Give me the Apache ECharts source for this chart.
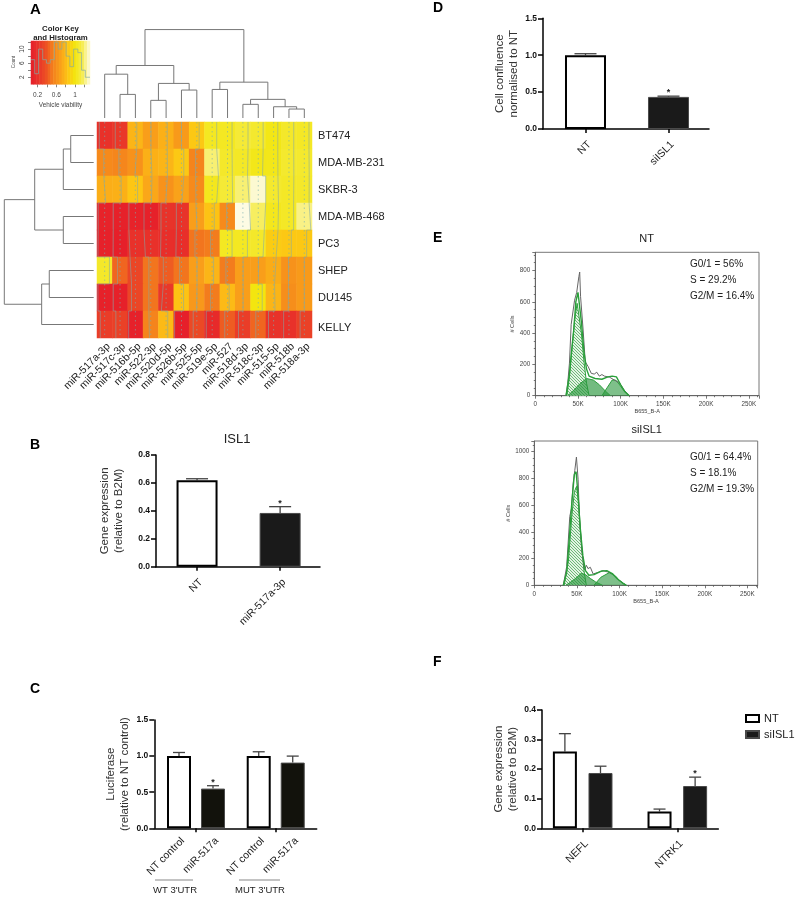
<!DOCTYPE html>
<html>
<head>
<meta charset="utf-8">
<style>html,body{margin:0;padding:0;background:#fff}#chart{width:796px;height:898px}</style>
<script src="https://cdn.jsdelivr.net/npm/echarts@6/dist/echarts.min.js"></script>
</head>
<body>
<div id="chart"></div>
<script>
// panel A: heatmap
var mirnas = ['miR-517a-3p','miR-517c-3p','miR-516b-5p','miR-522-3p','miR-520d-5p','miR-526b-5p','miR-525-5p','miR-519e-5p','miR-527','miR-518d-3p','miR-518c-3p','miR-515-5p','miR-518b','miR-518a-3p'];
var cellLines = ['BT474','MDA-MB-231','SKBR-3','MDA-MB-468','PC3','SHEP','DU145','KELLY'];
var bt474 = [0.2,0.25,0.78,0.68,0.76,0.66,0.86,1.05,1.05,1.1,1.08,1.02,1.07,1.06];
var mda231 = [0.58,0.56,0.62,0.76,0.78,0.86,0.55,1.2,1.07,1.06,1.03,1.03,1.08,1.08];
var skbr3 = [0.75,0.76,0.85,0.72,0.62,0.7,0.58,1.04,1.1,1.2,1.3,1.08,1.06,1.07];
var mda468 = [0.1,0.08,0.1,0.08,0.22,0.22,0.68,0.84,0.58,1.32,1.18,1.04,1.06,1.22];
var pc3 = [0.08,0.07,0.2,0.2,0.18,0.18,0.5,0.52,1.05,1.05,1.07,0.88,0.86,0.86];
var shep = [1.07,0.45,0.33,0.5,0.42,0.5,0.68,0.78,0.52,0.68,0.68,0.74,0.62,0.66];
var du145 = [0.08,0.08,0.33,0.5,0.25,0.84,0.65,0.52,0.8,0.68,1.0,0.78,0.6,0.66];
var kelly = [0.28,0.3,0.08,0.55,0.8,0.07,0.35,0.15,0.42,0.28,0.45,0.22,0.2,0.3];
var heatRows = [bt474,mda231,skbr3,mda468,pc3,shep,du145,kelly];

// dendrograms, hclust style: [a, b, height], a/b >= 0 leaf, < 0 earlier merge
var colMerges = [[1,2,26.6],[0,-1,49.4],[3,4,19.9],[5,6,31.5],[-3,-4,39],[-2,-5,59.2],[7,8,32.2],[9,10,15.4],[12,13,10.1],[11,-9,12.7],[-8,-10,21],[-7,-11,40.4],[-6,-12,99.7]];
var rowMerges = [[0,1,25.7],[-1,2,34],[3,4,34],[-2,-3,66],[5,6,49.7],[-5,7,58.2],[-4,-6,100]];

// colour key
var keyBands = [0.09,0.15,0.21,0.27,0.33,0.39,0.45,0.51,0.57,0.63,0.69,0.75,0.81,0.87,0.93,0.99,1.05,1.11,1.17,1.23,1.29];
var histEdges = [0.06,0.14,0.22,0.31,0.39,0.47,0.56,0.64,0.72,0.81,0.89,0.97,1.06,1.14,1.22,1.32];
var histCounts = [7,3,10,7,6,7,12,10,12,8,5,10,9,4,2];

// panel B
var isl1Cats = ['NT','miR-517a-3p'];
var isl1Values = [0.62,0.385];
var isl1ErrTop = [0.63,0.43];
// panel C
var lucNT = [1.0,1.0];
var lucNTErr = [1.05,1.06];
var lucMir = [0.55,0.91];
var lucMirErr = [0.59,1.0];
// panel D
var confCats = ['NT','siISL1'];
var confValues = [1.0,0.435];
var confErrTop = [1.02,0.445];
// panel F
var geneCats = ['NEFL','NTRK1'];
var geneNT = [0.26,0.057];
var geneNTErr = [0.32,0.065];
var geneSi = [0.187,0.143];
var geneSiErr = [0.21,0.173];

// panel E, [B655 in thousands, cells]
var ntRaw = [[36,0],[38,80],[40,208],[42,455],[44,465],[46,610],[48.5,660],[51,760],[52,790],[53,635],[56,420],[58.5,217],[62,185],[65.5,143],[69,138],[72,150],[75,125],[78,135],[81,125],[87,118],[92.6,100],[98.5,83],[104,36],[110,0]];
var ntFit = [[36,0],[40,140],[42,260],[45,420],[47.5,600],[50,660],[51.5,650],[54,470],[57,280],[60,170],[63,125],[70,110],[78,105],[85,120],[90,125],[95,120],[100,70],[105,25],[110,0]];
var ntG1 = [[37,0],[40,120],[43,300],[46,480],[49,590],[51,580],[54,400],[57,220],[60,80],[63,0]];
var ntS = [[38,0],[45,35],[52,75],[60,110],[68,100],[75,70],[82,30],[88,0]];
var ntG2 = [[78,0],[84,50],[90,100],[94,100],[98,75],[104,30],[110,0]];
var siRaw = [[34,0],[38,140],[41.6,515],[43.6,575],[45.5,760],[47.5,860],[49.4,960],[51.4,790],[53,490],[56,240],[59,115],[61,150],[63,125],[65.7,135],[69,85],[75,97],[80.5,110],[86,100],[92,85],[98,45],[104,15],[108,0]];
var siFit = [[34,0],[38,100],[41,350],[44,620],[47,830],[49,850],[51,700],[54,420],[57,220],[60,110],[64,75],[70,80],[78,105],[85,110],[92,85],[98,45],[104,15],[108,0]];
var siG1 = [[35,0],[40,180],[44,520],[47,700],[49.5,740],[52,620],[55,330],[58,120],[61,0]];
var siS = [[37,0],[44,30],[50,60],[55,90],[60,80],[66,50],[72,25],[80,0]];
var siG2 = [[70,0],[78,60],[88,95],[95,70],[100,35],[108,0]];
var ntStats = ['G0/1 = 56%','S = 29.2%','G2/M = 16.4%'];
var siStats = ['G0/1 = 64.4%','S = 18.1%','G2/M = 19.3%'];

var FONT = '"Liberation Sans", Arial, sans-serif';
var grids = [], xAxes = [], yAxes = [], series = [], graphics = [];

function addGrid(x0, y0, x1, y1, xAxis, yAxis, extra) {
    var grid = {left: x0, top: y0, width: x1 - x0, height: y1 - y0};
    for (var k in extra) grid[k] = extra[k];
    grids.push(grid);
    var idx = grids.length - 1;
    xAxis.gridIndex = idx;
    yAxis.gridIndex = idx;
    xAxes.push(xAxis);
    yAxes.push(yAxis);
    return idx;
}

function hiddenValue(min, max, inverse) {
    return {type: 'value', show: false, min: min, max: max, inverse: !!inverse, splitLine: {show: false}};
}

function text(x, y, str, style) {
    var s = {text: str, x: x, y: y, fontFamily: FONT, fontSize: 11, fill: '#222', align: 'left', verticalAlign: 'middle'};
    for (var k in style) s[k] = style[k];
    graphics.push({type: 'text', silent: true, style: s});
}

function dendroPoints(merges, horizontal) {
    var nodes = [], pts = [];
    merges.forEach(function(m) {
        var a = m[0] >= 0 ? {p: m[0] + 0.5, h: 0} : nodes[-m[0] - 1];
        var b = m[1] >= 0 ? {p: m[1] + 0.5, h: 0} : nodes[-m[1] - 1];
        var seg = [[a.p, a.h], [a.p, m[2]], [b.p, m[2]], [b.p, b.h]];
        seg.forEach(function(s) {
            pts.push(horizontal ? [s[1], s[0]] : [s[0], s[1]]);
        });
        pts.push([null, null]);
        nodes.push({p: (a.p + b.p) / 2, h: m[2]});
    });
    return pts;
}

function pathSeries(idx, data, color, width, dash, z) {
    return {
        type: 'line', xAxisIndex: idx, yAxisIndex: idx, data: data, showSymbol: false, symbol: 'none',
        connectNulls: false, z: z || 3, silent: true,
        lineStyle: {color: color, width: width, type: dash || 'solid'}
    };
}

// ---- panel A ----
var HX0 = 97, HX1 = 312, HY0 = 122, HY1 = 338;
var heatIdx = addGrid(HX0, HY0, HX1, HY1, {
    type: 'category', data: mirnas, position: 'bottom',
    axisLine: {show: false}, axisTick: {show: false},
    axisLabel: {interval: 0, rotate: 45, margin: 3, verticalAlign: 'top', fontFamily: FONT, fontSize: 10.5, color: '#222'}
}, {
    type: 'category', data: cellLines, inverse: true, position: 'right',
    axisLine: {show: false}, axisTick: {show: false},
    axisLabel: {
        interval: 0, margin: 6, fontFamily: FONT, fontSize: 11, color: '#222',
        formatter: function(v) { return v === 'KELLY' ? '{low|' + v + '}' : v; },
        rich: {low: {fontFamily: FONT, fontSize: 11, color: '#222', padding: [7, 0, 0, 0]}}
    }
});
var heatData = [];
heatRows.forEach(function(row, r) {
    row.forEach(function(v, c) { heatData.push([c, r, v]); });
});
series.push({type: 'heatmap', xAxisIndex: heatIdx, yAxisIndex: heatIdx, data: heatData, z: 2, silent: true, itemStyle: {borderWidth: 0}});
var heatSeriesIndex = series.length - 1;

// trace lines over the cells
var traceIdx = addGrid(HX0, HY0, HX1, HY1, hiddenValue(0, 14), hiddenValue(0, 8, true));
var tracePts = [], centrePts = [];
mirnas.forEach(function(name, c) {
    centrePts.push([c + 0.5, 0], [c + 0.5, 8], [null, null]);
    heatRows.forEach(function(row, r) {
        var tx = c + row[c] / 1.32;
        tracePts.push([tx, r], [tx, r + 1]);
    });
    tracePts.push([null, null]);
});
series.push(pathSeries(traceIdx, centrePts, 'rgba(120,175,175,0.6)', 1, [1.5, 3], 4));
series.push(pathSeries(traceIdx, tracePts, 'rgba(130,170,170,0.55)', 1, 'solid', 4));

var topIdx = addGrid(HX0, 29.3, HX1, 118, hiddenValue(0, 14), hiddenValue(0, 100));
series.push(pathSeries(topIdx, dendroPoints(colMerges, false), '#777', 1));
var leftIdx = addGrid(4.3, HY0, 93.7, HY1, hiddenValue(0, 100, true), hiddenValue(0, 8, true));
series.push(pathSeries(leftIdx, dendroPoints(rowMerges, true), '#777', 1));

// colour key: bands plus histogram
var KX0 = 31, KX1 = 90, KY0 = 41, KY1 = 84.3;
var keyIdx = addGrid(KX0, KY0, KX1, KY1, {type: 'category', show: false, data: keyBands}, {type: 'category', show: false, data: ['k']});
series.push({
    type: 'heatmap', xAxisIndex: keyIdx, yAxisIndex: keyIdx, z: 2, silent: true,
    data: keyBands.map(function(v, i) { return [i, 0, v]; })
});
var keySeriesIndex = series.length - 1;
var smallLabel = {fontFamily: FONT, fontSize: 6.5, color: '#444'};
var histIdx = addGrid(KX0, KY0, KX1, KY1, {
    type: 'value', min: 0.06, max: 1.32, splitLine: {show: false},
    axisLine: {show: false},
    axisTick: {length: 3, customValues: [0.2,0.4,0.6,0.8,1,1.2], lineStyle: {color: '#666', width: 0.8}},
    axisLabel: Object.assign({customValues: [0.2,0.6,1], margin: 7, formatter: function(v) { return String(v); }}, smallLabel)
}, {
    type: 'value', min: 0, max: 12.3, splitLine: {show: false},
    axisLine: {show: false},
    axisTick: {length: 3, customValues: [2,4,6,8,10,12], lineStyle: {color: '#666', width: 0.8}},
    axisLabel: Object.assign({customValues: [2,6,10], rotate: 90, margin: 5}, smallLabel)
});
var histPts = histEdges.map(function(e, i) {
    return [e, i < histCounts.length ? histCounts[i] : histCounts[histCounts.length - 1]];
});
series.push({
    type: 'line', xAxisIndex: histIdx, yAxisIndex: histIdx, data: histPts, step: 'end', showSymbol: false, z: 5, silent: true,
    lineStyle: {color: 'rgba(130,170,165,0.85)', width: 0.8}
});

text(60.5, 29, 'Color Key', {fontSize: 7.8, fontWeight: 'bold', align: 'center'});
text(60.5, 38, 'and Histogram', {fontSize: 7.8, fontWeight: 'bold', align: 'center'});
text(60.5, 105.5, 'Vehicle viability', {fontSize: 6.4, align: 'center', fill: '#444'});
graphics.push({type: 'text', silent: true, x: 14, y: 62, rotation: Math.PI / 2,
    style: {text: 'Count', fontFamily: FONT, fontSize: 4.6, fill: '#444', align: 'center', verticalAlign: 'middle'}});

// ---- bar panels ----
function errorSeries(idx, xs, tops, errs, offset, capW, stars, z) {
    return {
        type: 'custom', xAxisIndex: idx, yAxisIndex: idx, silent: true, z: z || 1,
        data: xs.map(function(x, i) { return [x, tops[i], errs[i], stars[i] ? 1 : 0]; }),
        encode: {x: 0, y: 2},
        renderItem: function(params, api) {
            var top = api.coord([api.value(0), api.value(1)]);
            var err = api.coord([api.value(0), api.value(2)]);
            var cx = top[0] + offset;
            var line = {stroke: '#444', lineWidth: 1.3};
            var kids = [
                {type: 'line', shape: {x1: cx, y1: top[1], x2: cx, y2: err[1]}, style: line},
                {type: 'line', shape: {x1: cx - capW / 2, y1: err[1], x2: cx + capW / 2, y2: err[1]}, style: line}
            ];
            if (api.value(3)) {
                kids.push({type: 'text', style: {text: '*', x: cx, y: err[1] - 3.5, align: 'center', verticalAlign: 'middle', fontFamily: FONT, fontSize: 9, fontWeight: 'bold', fill: '#222'}});
            }
            return {type: 'group', children: kids};
        }
    };
}

var whiteBar = {color: '#fff', borderColor: '#000', borderWidth: 2};
var darkBar = {color: '#1a1a1a', borderColor: '#4a4a4a', borderWidth: 1};

function barAxes(o) {
    return [{
        type: 'value', min: o.xMin, max: o.xMax, splitLine: {show: false},
        axisLine: {onZero: false, lineStyle: {color: '#000', width: 1.5}},
        axisTick: {customValues: [0, 1], length: 4, lineStyle: {color: '#000', width: 1.5}},
        axisLabel: {
            customValues: o.cats ? [0, 1] : [], rotate: 45, margin: 10, verticalAlign: 'top', fontFamily: FONT, fontSize: 10.5, color: '#222',
            formatter: function(v) { return o.cats ? o.cats[v] : ''; }
        }
    }, {
        type: 'value', min: 0, max: o.yMax, interval: o.yStep, splitLine: {show: false},
        name: o.yName, nameLocation: 'middle', nameRotate: 90, nameGap: o.nameGap,
        nameTextStyle: {fontFamily: FONT, fontSize: 11.5, color: '#333', lineHeight: 14},
        axisLine: {show: true, onZero: false, lineStyle: {color: '#000', width: 1.5}},
        axisTick: {show: true, length: 5, lineStyle: {color: '#000', width: 1.5}},
        axisLabel: {
            margin: 6, fontFamily: FONT, fontSize: 8.5, fontWeight: 'bold', color: '#111',
            formatter: function(v) { return v.toFixed(1); }
        }
    }];
}

function singleBarPanel(o) {
    var ax = barAxes(o);
    var idx = addGrid(o.x0, o.y0, o.x1, o.y1, ax[0], ax[1]);
    var xs = [0, 1];
    series.push(errorSeries(idx, xs, o.values, o.errs, 0, o.capW, [false, true]));
    series.push({
        type: 'bar', xAxisIndex: idx, yAxisIndex: idx, barWidth: 41, z: 2, silent: true,
        data: o.values.map(function(v, i) {
            return {value: [i, v], itemStyle: i === 0 ? whiteBar : darkBar};
        })
    });
}

function groupedBarPanel(o) {
    var ax = barAxes(o);
    var idx = addGrid(o.x0, o.y0, o.x1, o.y1, ax[0], ax[1]);
    var xs = [0, 1];
    var off = (o.barW + o.gap) / 2;
    o.groups.forEach(function(g, n) {
        var sign = n === 0 ? -1 : 1;
        series.push(errorSeries(idx, xs, g.values, g.errs, sign * off, 12, g.stars));
        series.push({
            type: 'bar', name: g.name, xAxisIndex: idx, yAxisIndex: idx, barWidth: o.barW, barGap: (o.gap / o.barW * 100) + '%', z: 2, silent: true,
            itemStyle: g.dark ? {color: g.fill || '#1a1a1a', borderColor: '#4a4a4a', borderWidth: 1} : whiteBar,
            data: g.values.map(function(v, i) { return [i, v]; }),
            label: g.tick ? {
                show: true, position: 'bottom', distance: 7, rotate: 45, align: 'right', verticalAlign: 'top',
                fontFamily: FONT, fontSize: 10.5, color: '#222', formatter: function() { return g.tick; }
            } : {show: false}
        });
    });
}

singleBarPanel({
    x0: 156, y0: 455, x1: 320, y1: 566.7, xMin: -0.494, xMax: 1.48, yMax: 0.8, yStep: 0.2,
    cats: isl1Cats, values: isl1Values, errs: isl1ErrTop, capW: 22,
    yName: 'Gene expression\n(relative to B2M)', nameGap: 30
});
singleBarPanel({
    x0: 543, y0: 18.3, x1: 709, y1: 129, xMin: -0.512, xMax: 1.488, yMax: 1.5, yStep: 0.5,
    cats: confCats, values: confValues, errs: confErrTop, capW: 22,
    yName: 'Cell confluence\nnormalised to NT', nameGap: 21
});
groupedBarPanel({
    x0: 154.3, y0: 720, x1: 316.7, y1: 828.3, xMin: -0.523, xMax: 1.514, yMax: 1.5, yStep: 0.5,
    barW: 24, gap: 10, yName: 'Luciferase\n(relative to NT control)', nameGap: 22,
    groups: [
        {values: lucNT, errs: lucNTErr, stars: [false, false], tick: 'NT control'},
        {values: lucMir, errs: lucMirErr, stars: [true, false], dark: true, fill: '#12120c', tick: 'miR-517a'}
    ]
});
groupedBarPanel({
    x0: 542, y0: 710, x1: 718.3, y1: 828.3, xMin: -0.43, xMax: 1.433, yMax: 0.4, yStep: 0.1,
    cats: geneCats, barW: 24, gap: 11.6, yName: 'Gene expression\n(relative to B2M)', nameGap: 19,
    groups: [
        {name: 'NT', values: geneNT, errs: geneNTErr, stars: [false, false]},
        {name: 'siISL1', values: geneSi, errs: geneSiErr, stars: [false, true], dark: true}
    ]
});

graphics.push({type: 'line', silent: true, shape: {x1: 155, y1: 880, x2: 193, y2: 880}, style: {stroke: '#555', lineWidth: 0.7}});
graphics.push({type: 'line', silent: true, shape: {x1: 239, y1: 880, x2: 280, y2: 880}, style: {stroke: '#555', lineWidth: 0.7}});
text(175, 890, "WT 3'UTR", {fontSize: 9.5, align: 'center'});
text(260, 890, "MUT 3'UTR", {fontSize: 9.5, align: 'center'});
text(237, 439, 'ISL1', {fontSize: 13, align: 'center'});

// ---- panel E ----
var hatch = document.createElement('canvas');
hatch.width = 3;
hatch.height = 3;
var hctx = hatch.getContext('2d');
hctx.fillStyle = '#e4f2e4';
hctx.fillRect(0, 0, 3, 3);
hctx.fillStyle = '#6cbb76';
hctx.fillRect(0, 0, 1, 1);
hctx.fillRect(1, 1, 1, 1);
hctx.fillRect(2, 2, 1, 1);

function flowPanel(o) {
    var tickStyle = {color: '#555', width: 0.8};
    var lab = {fontFamily: FONT, fontSize: 6.3, color: '#444'};
    var idx = addGrid(o.x0, o.y0, o.x1, o.y1, {
        type: 'value', min: 0, max: 262, interval: 50, splitLine: {show: false},
        name: 'B655_B-A', nameLocation: 'middle', nameGap: 13, nameTextStyle: {fontFamily: FONT, fontSize: 5.6, color: '#444'},
        axisLine: {lineStyle: {color: '#666', width: 1}},
        axisTick: {length: 3, lineStyle: tickStyle},
        minorTick: {show: true, splitNumber: 5, length: 1.5, lineStyle: tickStyle},
        axisLabel: Object.assign({
            customValues: [0,50,100,150,200,250], margin: 6,
            formatter: function(v) { return v === 0 ? '0' : v + 'K'; }
        }, lab)
    }, {
        type: 'value', min: 0, max: o.yMax, interval: 200, splitLine: {show: false},
        name: '# Cells', nameLocation: 'middle', nameRotate: 90, nameGap: 20, nameTextStyle: {fontFamily: FONT, fontSize: 5.6, color: '#444'},
        axisLine: {show: true, lineStyle: {color: '#666', width: 1}},
        axisTick: {show: true, length: 3, lineStyle: tickStyle},
        minorTick: {show: true, splitNumber: 4, length: 1.5, lineStyle: tickStyle},
        axisLabel: Object.assign({customValues: o.yLabels, margin: 5, formatter: function(v) { return String(v); }}, lab)
    }, {show: true, borderColor: '#777', borderWidth: 1, backgroundColor: 'transparent'});
    function area(data, fill, z) {
        return {
            type: 'line', xAxisIndex: idx, yAxisIndex: idx, data: data, showSymbol: false, z: z, silent: true,
            lineStyle: {color: '#2e9e3e', width: 1},
            areaStyle: {color: fill, opacity: 1}
        };
    }
    series.push(area(o.g1, {image: hatch, repeat: 'repeat'}, 2));
    series.push(area(o.s, 'rgba(40,150,60,0.65)', 3));
    series.push(area(o.g2, 'rgba(40,150,60,0.6)', 3));
    series.push({type: 'line', xAxisIndex: idx, yAxisIndex: idx, data: o.raw, showSymbol: false, z: 4, silent: true, lineStyle: {color: '#666', width: 1}});
    series.push({type: 'line', xAxisIndex: idx, yAxisIndex: idx, data: o.fit, showSymbol: false, z: 5, silent: true, lineStyle: {color: '#2aa03a', width: 1.4}});
    o.stats.forEach(function(s, i) {
        text(o.statX, o.statY + i * 16, s, {fontSize: 10});
    });
}

flowPanel({x0: 535.3, y0: 252.3, x1: 759, y1: 395.7, yMax: 916, yLabels: [0,200,400,600,800], raw: ntRaw, fit: ntFit, g1: ntG1, s: ntS, g2: ntG2, stats: ntStats, statX: 690, statY: 264.7});
flowPanel({x0: 534.3, y0: 441, x1: 757.7, y1: 585.3, yMax: 1080, yLabels: [0,200,400,600,800,1000], raw: siRaw, fit: siFit, g1: siG1, s: siS, g2: siG2, stats: siStats, statX: 690, statY: 457.7});
text(646.7, 239, 'NT', {fontSize: 11, align: 'center'});
text(646.7, 429.5, 'siISL1', {fontSize: 11, align: 'center'});

// panel letters
[['A', 30, 10, 15], ['B', 30, 445, 14], ['C', 30, 689, 14], ['D', 433, 8, 14], ['E', 433, 238, 14], ['F', 433, 662, 14]].forEach(function(l) {
    text(l[1], l[2], l[0], {fontSize: l[3], fontWeight: 'bold', fill: '#000'});
});

var chart = echarts.init(document.getElementById('chart'), null, {renderer: 'canvas'});
chart.setOption({
    animation: false,
    backgroundColor: '#fff',
    grid: grids,
    xAxis: xAxes,
    yAxis: yAxes,
    visualMap: {
        type: 'continuous', show: false, seriesIndex: [heatSeriesIndex, keySeriesIndex], dimension: 2,
        min: 0.06, max: 1.32,
        inRange: {color: ['#e61e2a','#e8332a','#ec4d24','#f4801c','#f9a01a','#fdc514','#f3e60f','#f6ec50','#fdfbe4']}
    },
    legend: {
        left: 745, top: 713, padding: 0, orient: 'vertical', itemWidth: 13, itemHeight: 7, itemGap: 5, selectedMode: false,
        icon: 'rect', data: ['NT', 'siISL1'], textStyle: {fontFamily: FONT, fontSize: 11, color: '#222'}
    },
    graphic: graphics,
    series: series
});
</script>
</body>
</html>
